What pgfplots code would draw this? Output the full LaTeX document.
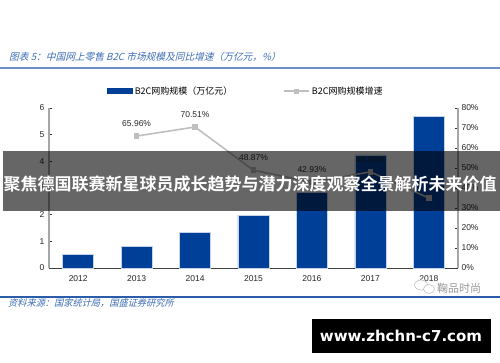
\documentclass[border=0pt]{standalone}
\usepackage{pgfplots}
\pgfplotsset{compat=1.18}
\usepackage{fontspec}
\setmainfont{Liberation Sans}
\newfontfamily\cjk{Noto Sans CJK SC}
\newfontfamily\cjkb[BoldFont={Noto Sans CJK SC Bold}]{Noto Sans CJK SC}
\newfontfamily\cjkit[FakeSlant=0.25]{Noto Sans CJK SC}
\newfontfamily\wm{DejaVu Sans}
\definecolor{barblue}{HTML}{003F98}
\definecolor{baredge}{HTML}{C5D3EA}
\definecolor{linegray}{HTML}{BFBFBF}
\definecolor{axgray}{HTML}{A6A6A6}
\definecolor{headblue}{HTML}{3E6DB5}
\definecolor{rule1}{HTML}{6F8FC4}
\definecolor{rule2}{HTML}{2A5CAA}
\begin{document}
\begin{tikzpicture}
\path[use as bounding box] (0pt,0pt) rectangle (500pt,362pt);
\clip (0pt,0pt) rectangle (500pt,362pt);
\fill[white] (0pt,0pt) rectangle (500pt,362pt);
% header
\node[anchor=west,inner sep=0,text=headblue,font=\cjkit\fontsize{9.7}{10}\selectfont] at (9pt,305pt) {图表 5：中国网上零售 B2C 市场规模及同比增速（万亿元，\%）};
\draw[rule1,line width=1.8pt] (0pt,294pt) -- (500pt,294pt);
\draw[rule2,line width=1.2pt] (0pt,65pt) -- (500pt,65pt);
\node[anchor=west,inner sep=0,text=headblue,font=\cjkit\fontsize{9.2}{10}\selectfont] at (8pt,59pt) {资料来源：国家统计局，国盛证券研究所};
% bars
\begin{axis}[at={(49pt,94pt)},anchor=south west,width=409pt,height=160pt,scale only axis,
  xmin=-0.5,xmax=6.5,ymin=0,ymax=6,
  axis y line*=left,axis x line*=bottom,
  ytick={0,1,2,3,4,5,6},
  xtick={0,1,2,3,4,5,6},xticklabels={2012,2013,2014,2015,2016,2017,2018},
  extra x ticks={-0.5,0.5,1.5,2.5,3.5,4.5,5.5,6.5},extra x tick labels={},
  extra x tick style={major tick length=2pt,tick style={black!70}},
  major x tick style={draw=none},
  major tick length=2.5pt,tick align=inside,
  tick style={black!80,line width=0.5pt},
  ticklabel style={font=\fontsize{8.5}{10}\selectfont,text=black!85},
  /pgf/number format/assume math mode=true,
  y axis line style={axgray,line width=1.2pt},
  x axis line style={black!75,line width=0.7pt},
  xticklabel style={yshift=-4pt},
  yticklabel style={xshift=-1pt},
  clip=false]
\addplot[ybar,bar width=31pt,fill=barblue,draw=baredge,line width=0.5pt,bar shift=0pt] coordinates {
(0,0.52)(1,0.81)(2,1.35)(3,1.98)(4,2.85)(5,4.24)(6,5.70)};
\end{axis}
% line
\begin{axis}[at={(49pt,94pt)},anchor=south west,width=409pt,height=160pt,scale only axis,
  xmin=-0.5,xmax=6.5,ymin=0,ymax=80,
  axis y line*=right,axis x line=none,
  ytick={0,10,20,30,40,50,60,70,80},
  yticklabel={\pgfmathprintnumber{\tick}\%},
  major tick length=2.5pt,tick align=inside,
  tick style={black!80,line width=0.5pt},
  ticklabel style={font=\fontsize{8.5}{10}\selectfont,text=black!85},
  /pgf/number format/assume math mode=true,
  y axis line style={axgray,line width=1.2pt},
  clip=false,
  legend style={draw=none,fill=none,at={(0.5,1)},anchor=south,yshift=10pt,xshift=-7.5pt,
    font=\cjk\fontsize{9}{10}\selectfont,legend columns=2,
    /tikz/every even column/.style={column sep=49pt},inner sep=0pt},
  legend cell align=left]
\addlegendimage{legend image code/.code={\fill[barblue] (0pt,-2.5pt) rectangle (25pt,2.5pt);}}
\addlegendentry{B2C网购规模（万亿元）}
\addlegendimage{legend image code/.code={\draw[linegray,line width=1.5pt] (0pt,0pt)--(25pt,0pt);\fill[linegray] (10pt,-2pt) rectangle (14pt,2pt);}}
\addlegendentry{B2C网购规模增速}
\addplot[linegray,line width=1.6pt,mark=square*,mark size=2pt,mark options={fill=linegray,draw=linegray},
  point meta=explicit symbolic,
  nodes near coords,
  nodes near coords style={font=\fontsize{8.5}{10}\selectfont,text=black!85,yshift=7.5pt,anchor=south,inner sep=1pt}]
 table[meta=l] {
x y l
1 65.96 65.96\%
2 70.51 70.51\%
3 48.87 48.87\%
4 42.93 42.93\%
5 48.06 48.06\%
};
\addplot[linegray,line width=1.6pt,mark=square*,mark size=2pt,mark options={fill=linegray,draw=linegray},forget plot] coordinates {(5,48.06)(6,35)};
\end{axis}
% wechat watermark
\draw[black!25,line width=0.6pt,fill=white] (421pt,77pt) ellipse (6.5pt and 5pt);
\draw[black!25,line width=0.6pt,fill=white] (429pt,73pt) ellipse (5.5pt and 4.5pt);
\node[anchor=west,inner sep=0,text=black!40,font=\cjk\fontsize{11}{12}\selectfont] at (437pt,74pt) {鞠品时尚};
% overlay band
\fill[black,opacity=0.6] (3pt,151pt) rectangle (500pt,211pt);
\node[text=white,inner sep=0,font=\cjkb\bfseries\fontsize{17}{18}\selectfont] at (250pt,177.5pt) {聚焦德国联赛新星球员成长趋势与潜力深度观察全景解析未来价值};
% black box
\fill[black] (312pt,9pt) rectangle (491pt,43pt);
\node[text=white,inner sep=0,font=\wm\bfseries\fontsize{15}{16}\selectfont] at (401pt,26pt) {www.zhchn-c7.com};
\end{tikzpicture}
\end{document}
